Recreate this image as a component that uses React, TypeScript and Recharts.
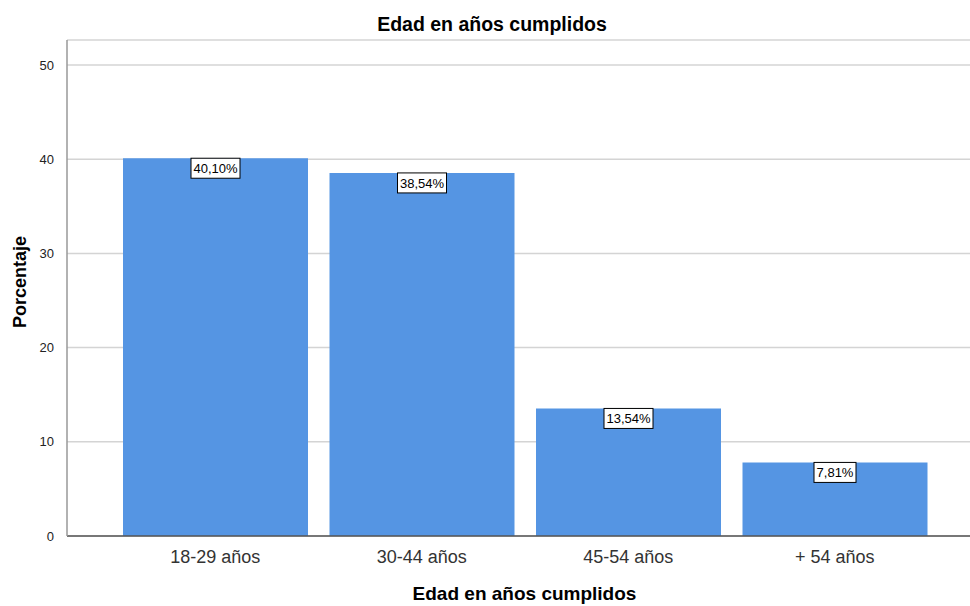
import React from 'react';
import { BarChart, Bar, XAxis, YAxis, CartesianGrid, LabelList, Label } from 'recharts';

const categories = ['18-29 años', '30-44 años', '45-54 años', '+ 54 años'];
const percentages = [40.1, 38.54, 13.54, 7.81];
const yTicks = [0, 10, 20, 30, 40, 50];

const data = categories.map((name, i) => ({ name, value: percentages[i] }));

const FONT = '"Liberation Sans", Arial, sans-serif';

const formatPct = (v: number) => v.toFixed(2).replace('.', ',') + '%';

const ValueBox = (props: any) => {
  const { x, y, width, value } = props;
  const text = formatPct(Number(value));
  const w = text.length * 7 + 7;
  const h = 20;
  const cx = Number(x) + Number(width) / 2;
  return (
    <g>
      <rect x={cx - w / 2} y={Number(y)} width={w} height={h} fill="#ffffff" stroke="#000000" strokeWidth={1} />
      <text x={cx} y={Number(y) + 15} textAnchor="middle" fontSize={13} fontFamily={FONT} fill="#000000">
        {text}
      </text>
    </g>
  );
};

export default function App() {
  return (
    <div style={{ position: 'absolute', left: 0, top: 0, width: 970, height: 606, background: '#fff' }}>
      <svg width={970} height={606} style={{ position: 'absolute', left: 0, top: 0, pointerEvents: 'none' }}>
        <text x={492} y={31} textAnchor="middle" fontSize={19.5} fontWeight="bold" fontFamily={FONT} fill="#000">
          Edad en años cumplidos
        </text>
      </svg>
      <BarChart
        width={970}
        height={606}
        data={data}
        margin={{ top: 40, right: 0, bottom: 0, left: 0 }}
        style={{ fontFamily: FONT }}
      >
        <CartesianGrid vertical={false} stroke="#d4d4d4" strokeWidth={1.5} />
        <XAxis
          dataKey="name"
          height={70}
          tickLine={false}
          axisLine={{ stroke: '#555555', strokeWidth: 1.5 }}
          tick={{ fontSize: 18, fill: '#333333', fontFamily: FONT }}
          tickMargin={8}
          padding={{ left: 45, right: 32 }}
        >
          <Label
            value="Edad en años cumplidos"
            position="insideBottom"
            offset={6}
            dx={6}
            style={{ fontSize: 19, fontWeight: 'bold', fill: '#000', fontFamily: FONT }}
          />
        </XAxis>
        <YAxis
          width={67}
          domain={[0, 52.65]}
          ticks={yTicks}
          allowDataOverflow
          tickLine={false}
          axisLine={{ stroke: '#999999', strokeWidth: 1.5 }}
          tick={{ fontSize: 13, fill: '#222222', fontFamily: FONT }}
          tickMargin={7}
        >
          <Label
            value="Porcentaje"
            angle={-90}
            position="insideLeft"
            offset={20}
            dy={-6}
            style={{ fontSize: 18, fontWeight: 'bold', fill: '#000', fontFamily: FONT, textAnchor: 'middle' }}
          />
        </YAxis>
        <Bar dataKey="value" fill="#5595e3" barSize={185} isAnimationActive={false}>
          <LabelList dataKey="value" content={ValueBox} />
        </Bar>
      </BarChart>
    </div>
  );
}
